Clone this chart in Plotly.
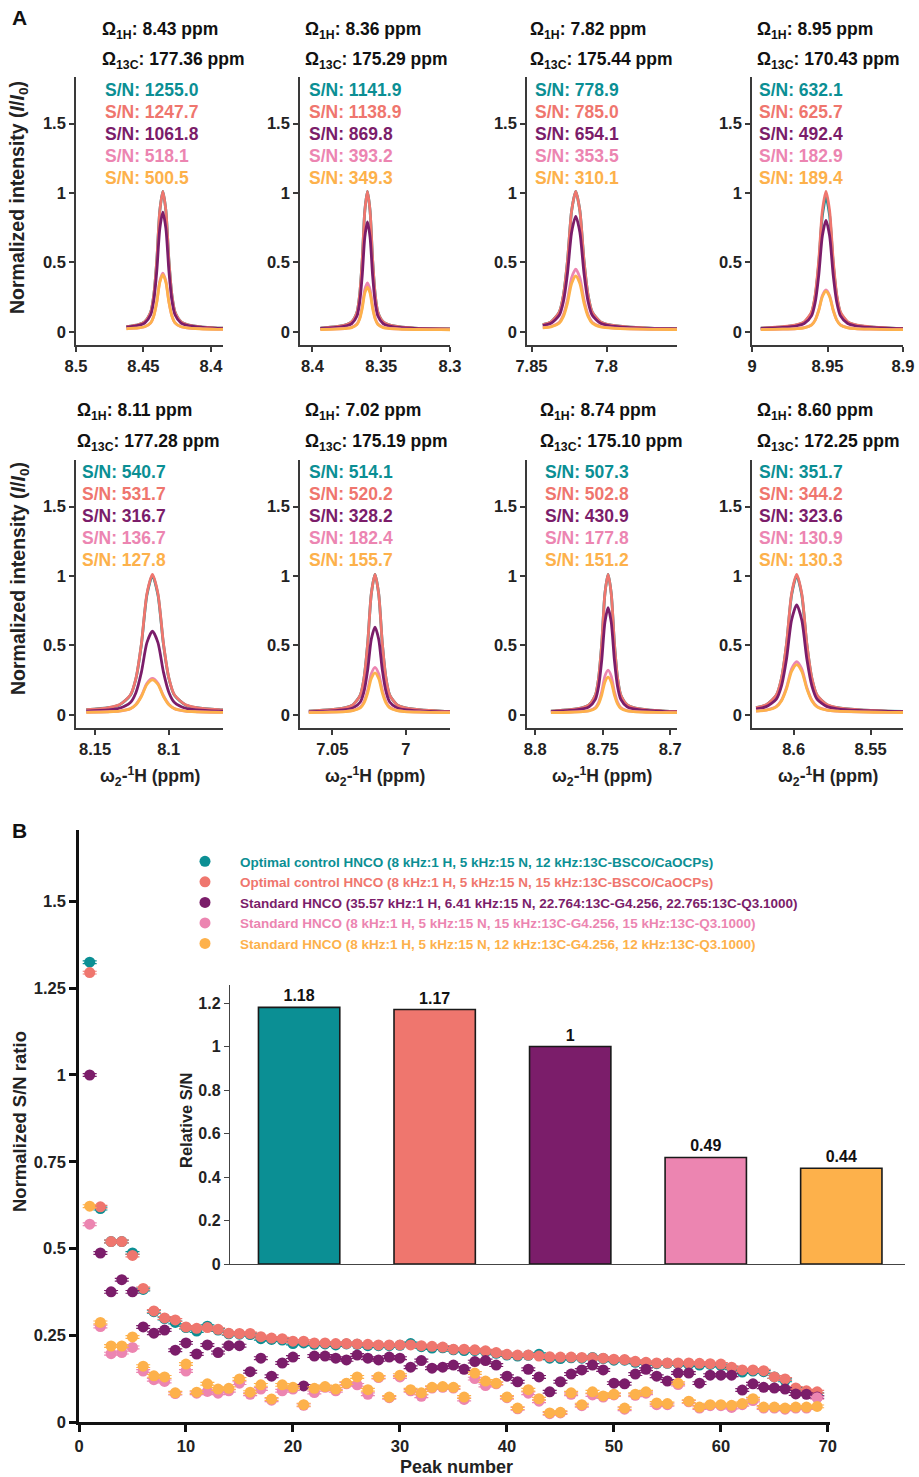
import plotly.graph_objects as go

W, H = 919, 1477
def PX(x): return x / W
def PY(y): return 1 - y / H

# ---------------- Panel A data ----------------
COLORS = ["#0B8F94", "#EF766E", "#7B1D6A", "#EC85B1", "#FDB14B"]
OMEGA_1H = ["8.43", "8.36", "7.82", "8.95", "8.11", "7.02", "8.74", "8.60"]
OMEGA_13C = ["177.36", "175.29", "175.44", "170.43", "177.28", "175.19", "175.10", "172.25"]
SN = [
    ["1255.0", "1247.7", "1061.8", "518.1", "500.5"],
    ["1141.9", "1138.9", "869.8", "393.2", "349.3"],
    ["778.9", "785.0", "654.1", "353.5", "310.1"],
    ["632.1", "625.7", "492.4", "182.9", "189.4"],
    ["540.7", "531.7", "316.7", "136.7", "127.8"],
    ["514.1", "520.2", "328.2", "182.4", "155.7"],
    ["507.3", "502.8", "430.9", "177.8", "151.2"],
    ["351.7", "344.2", "323.6", "130.9", "130.3"],
]
# peak heights (teal, salmon, purple, pink, orange)
PEAK_HEIGHT = [
    [1.00, 1.00, 0.85, 0.41, 0.40],
    [1.00, 1.00, 0.78, 0.34, 0.31],
    [1.00, 1.00, 0.82, 0.44, 0.39],
    [0.96, 1.00, 0.79, 0.29, 0.28],
    [0.99, 1.00, 0.59, 0.25, 0.24],
    [1.00, 1.00, 0.62, 0.33, 0.29],
    [1.00, 1.00, 0.76, 0.31, 0.26],
    [0.99, 1.00, 0.78, 0.37, 0.35],
]
PEAK_CENTER = [8.4356, 8.360, 7.8205, 8.951, 8.111, 7.021, 8.746, 8.598]
PEAK_HWHM = [0.0045, 0.0038, 0.0055, 0.0048, 0.0075, 0.0050, 0.0047, 0.0066]
CURVE_LEFT = [8.476, 8.400, 7.850, 9.000, 8.163, 7.072, 8.806, 8.627]
X_RANGE = [(8.5, 8.391), (8.409, 8.30), (7.853, 7.753), (9.0, 8.9),
           (8.163, 8.063), (7.072, 6.97), (8.806, 8.695), (8.627, 8.529)]
X_TICKS = [[8.5, 8.45, 8.4], [8.4, 8.35, 8.3], [7.85, 7.8], [9, 8.95, 8.9],
           [8.15, 8.1], [7.05, 7], [8.8, 8.75, 8.7], [8.6, 8.55]]
# line-shape profile (offset in half-widths, relative intensity)
PROFILE_U = [-20, -14, -9, -6, -4, -3, -2, -1.5, -1, -0.5, 0, 0.5, 1, 1.5, 2, 3, 4, 6, 9, 14, 20]
PROFILE_V = [0.008, 0.010, 0.015, 0.025, 0.040, 0.060, 0.13, 0.25, 0.50, 0.86, 1.0,
             0.86, 0.50, 0.25, 0.13, 0.060, 0.040, 0.025, 0.015, 0.010, 0.008]
BASELINE = 0.012

# ---------------- Panel B data ----------------
SERIES_NAMES = [
    "Optimal control HNCO (8 kHz:1 H, 5 kHz:15 N, 12 kHz:13C-BSCO/CaOCPs)",
    "Optimal control HNCO (8 kHz:1 H, 5 kHz:15 N, 15 kHz:13C-BSCO/CaOCPs)",
    "Standard HNCO (35.57 kHz:1 H, 6.41 kHz:15 N, 22.764:13C-G4.256, 22.765:13C-Q3.1000)",
    "Standard HNCO (8 kHz:1 H, 5 kHz:15 N, 15 kHz:13C-G4.256, 15 kHz:13C-Q3.1000)",
    "Standard HNCO (8 kHz:1 H, 5 kHz:15 N, 12 kHz:13C-G4.256, 12 kHz:13C-Q3.1000)",
]
PEAKS = list(range(1, 70))
SN_OC12 = [1.325, 0.615, 0.52, 0.52, 0.487, 0.382, 0.318, 0.298, 0.287, 0.272,
           0.262, 0.276, 0.265, 0.254, 0.253, 0.252, 0.24, 0.238, 0.236, 0.226,
           0.228, 0.224, 0.225, 0.222, 0.225, 0.224, 0.22, 0.22, 0.22, 0.221,
           0.226, 0.217, 0.213, 0.214, 0.208, 0.206, 0.206, 0.203, 0.198, 0.193,
           0.19, 0.192, 0.195, 0.184, 0.183, 0.185, 0.184, 0.186, 0.183, 0.178,
           0.178, 0.172, 0.17, 0.168, 0.169, 0.168, 0.166, 0.164, 0.166, 0.163,
           0.155, 0.144, 0.147, 0.145, 0.13, 0.12, 0.095, 0.087, 0.08]
SN_OC15 = [1.295, 0.62, 0.52, 0.52, 0.48, 0.385, 0.32, 0.30, 0.294, 0.274,
           0.27, 0.272, 0.267, 0.256, 0.255, 0.255, 0.246, 0.242, 0.24, 0.233,
           0.233, 0.228, 0.228, 0.226, 0.226, 0.225, 0.224, 0.222, 0.222, 0.222,
           0.222, 0.22, 0.218, 0.216, 0.21, 0.21, 0.208, 0.205, 0.2, 0.195,
           0.193, 0.193, 0.19, 0.188, 0.187, 0.187, 0.186, 0.185, 0.184, 0.181,
           0.18, 0.175, 0.172, 0.17, 0.17, 0.17, 0.17, 0.169, 0.168, 0.167,
           0.158, 0.15, 0.15, 0.148, 0.13, 0.124, 0.098, 0.09, 0.087]
SN_STD_HI = [1.0, 0.487, 0.375, 0.41, 0.375, 0.274, 0.256, 0.265, 0.207, 0.228,
             0.196, 0.222, 0.20, 0.22, 0.22, 0.145, 0.184, 0.132, 0.17, 0.187,
             0.104, 0.19, 0.19, 0.184, 0.179, 0.193, 0.184, 0.179, 0.187, 0.184,
             0.158, 0.177, 0.155, 0.158, 0.164, 0.152, 0.174, 0.177, 0.164, 0.132,
             0.116, 0.152, 0.13, 0.087, 0.116, 0.138, 0.15, 0.164, 0.15, 0.112,
             0.11, 0.138, 0.152, 0.132, 0.118, 0.141, 0.141, 0.112, 0.135, 0.135,
             0.135, 0.092, 0.11, 0.10, 0.098, 0.095, 0.081, 0.08, 0.072]
SN_STD15 = [0.57, 0.275, 0.197, 0.2, 0.215, 0.147, 0.122, 0.117, 0.082, 0.147,
            0.083, 0.088, 0.083, 0.09, 0.112, 0.08, 0.095, 0.063, 0.09, 0.095,
            0.048, 0.085, 0.1, 0.09, 0.11, 0.107, 0.08, 0.128, 0.07, 0.13,
            0.09, 0.074, 0.098, 0.1, 0.098, 0.065, 0.125, 0.105, 0.11, 0.07,
            0.038, 0.083, 0.06, 0.024, 0.026, 0.08, 0.047, 0.078, 0.072, 0.078,
            0.037, 0.077, 0.083, 0.05, 0.05, 0.108, 0.058, 0.04, 0.047, 0.047,
            0.042, 0.05, 0.062, 0.04, 0.04, 0.037, 0.04, 0.04, 0.07]
SN_STD12 = [0.622, 0.287, 0.219, 0.219, 0.245, 0.161, 0.133, 0.13, 0.084, 0.167,
            0.086, 0.11, 0.095, 0.097, 0.124, 0.086, 0.107, 0.066, 0.107, 0.10,
            0.05, 0.097, 0.102, 0.095, 0.112, 0.13, 0.093, 0.13, 0.072, 0.135,
            0.093, 0.084, 0.10, 0.102, 0.10, 0.072, 0.141, 0.118, 0.112, 0.072,
            0.04, 0.093, 0.067, 0.026, 0.028, 0.084, 0.05, 0.087, 0.075, 0.08,
            0.04, 0.08, 0.087, 0.055, 0.053, 0.112, 0.06, 0.043, 0.05, 0.05,
            0.048, 0.053, 0.067, 0.043, 0.043, 0.04, 0.043, 0.043, 0.045]
SN_ERR = 0.004
REL_SN = [1.18, 1.17, 1.0, 0.49, 0.44]
REL_LABELS = ["1.18", "1.17", "1", "0.49", "0.44"]

FONT = "Liberation Sans, Arial, Helvetica, sans-serif"
NARROW = "Liberation Sans Narrow, Arial Narrow, Liberation Sans, Arial, sans-serif"

fig = go.Figure()
layout = dict(template="none", width=W, height=H, margin=dict(l=0, r=0, t=0, b=0, pad=0),
              plot_bgcolor="white", paper_bgcolor="white",
              font=dict(family=FONT, color="#222222"))
ann = []

COLX = [(76, 223), (300, 450), (527, 677), (752, 903)]
ROWY = [(77, 345), (460, 728)]
TITLE_X = [[100, 303, 528, 755], [75, 303, 538, 755]]
SNL_X = [[103, 307, 533, 757], [80, 307, 543, 757]]
TITLE_Y = [(30, 60), (412, 442)]
SN_Y0 = [90, 472]

AX_A = dict(showline=True, linecolor="#3a3a3a", linewidth=1.7, ticks="outside",
            ticklen=5, tickwidth=1.7, tickcolor="#3a3a3a", showgrid=False, zeroline=False,
            automargin=False, tickfont=dict(size=16.5, family=FONT, weight="bold", color="#222"))

for i in range(8):
    r, c = divmod(i, 4)
    k = i + 1
    xa = "x" if k == 1 else f"x{k}"
    ya = "y" if k == 1 else f"y{k}"
    x0, x1 = COLX[c]
    yt, yb = ROWY[r]
    layout["xaxis" if k == 1 else f"xaxis{k}"] = dict(
        domain=[PX(x0), PX(x1)], anchor=ya, range=list(X_RANGE[i]),
        tickvals=X_TICKS[i], ticktext=[f"{v:g}" for v in X_TICKS[i]], **AX_A)
    layout["yaxis" if k == 1 else f"yaxis{k}"] = dict(
        domain=[PY(yb), PY(yt)], anchor=xa, range=[-0.095, 1.835],
        tickvals=[0, 0.5, 1, 1.5], ticktext=["0", "0.5", "1", "1.5"], **AX_A)
    for s in range(5):
        xs, ys = [], []
        for u, v in zip(PROFILE_U, PROFILE_V):
            xv = PEAK_CENTER[i] + u * PEAK_HWHM[i]
            if xv <= CURVE_LEFT[i] + 1e-9:
                xs.append(xv)
                ys.append(BASELINE + PEAK_HEIGHT[i][s] * v)
        fig.add_trace(go.Scatter(x=xs, y=ys, xaxis=xa, yaxis=ya, mode="lines",
                                 line=dict(color=COLORS[s], width=2.8, shape="spline", smoothing=0.7),
                                 showlegend=False, hoverinfo="skip"))
    ty1, ty2 = TITLE_Y[r]
    ann.append(dict(x=PX(TITLE_X[r][c]), y=PY(ty1), xref="paper", yref="paper",
                    xanchor="left", yanchor="middle", showarrow=False,
                    text=f"Ω<sub>1H</sub>: {OMEGA_1H[i]} ppm",
                    font=dict(size=17.5, family=FONT, weight="bold", color="#111")))
    ann.append(dict(x=PX(TITLE_X[r][c]), y=PY(ty2), xref="paper", yref="paper",
                    xanchor="left", yanchor="middle", showarrow=False,
                    text=f"Ω<sub>13C</sub>: {OMEGA_13C[i]} ppm",
                    font=dict(size=17.5, family=FONT, weight="bold", color="#111")))
    for s in range(5):
        ann.append(dict(x=PX(SNL_X[r][c]), y=PY(SN_Y0[r] + 22 * s), xref="paper", yref="paper",
                        xanchor="left", yanchor="middle", showarrow=False,
                        text=f"S/N: {SN[i][s]}",
                        font=dict(size=17.5, family=FONT, weight="bold", color=COLORS[s])))

# A axis titles
for yc in (198, 579):
    ann.append(dict(x=PX(19), y=PY(yc), xref="paper", yref="paper", textangle=-90,
                    showarrow=False, xanchor="center", yanchor="middle",
                    text="Normalized intensity (<i>I</i>/<i>I</i><sub>0</sub>)",
                    font=dict(size=19.5, family=FONT, weight="bold", color="#222")))
for c in range(4):
    x0, x1 = COLX[c]
    ann.append(dict(x=PX((x0 + x1) / 2), y=PY(776), xref="paper", yref="paper",
                    showarrow=False, xanchor="center", yanchor="middle",
                    text="ω<sub>2</sub>-<sup>1</sup>H (ppm)",
                    font=dict(size=17.5, family=FONT, weight="bold", color="#222")))
ann.append(dict(x=PX(10), y=PY(18), xref="paper", yref="paper", showarrow=False,
                xanchor="left", yanchor="middle", text="A",
                font=dict(size=21, family=FONT, weight="bold", color="#111")))
ann.append(dict(x=PX(10), y=PY(830), xref="paper", yref="paper", showarrow=False,
                xanchor="left", yanchor="middle", text="B",
                font=dict(size=21, family=FONT, weight="bold", color="#111")))

# ---------------- Panel B main ----------------
layout["xaxis9"] = dict(domain=[PX(79), PX(830)], anchor="y9", range=[0, 70.2],
                        tickvals=list(range(0, 71, 10)), showline=True, linecolor="#111",
                        linewidth=2.6, ticks="outside", ticklen=7, tickwidth=2.6, tickcolor="#111",
                        showgrid=False, zeroline=False, automargin=False,
                        tickfont=dict(size=16.5, family=FONT, weight="bold", color="#222"))
layout["yaxis9"] = dict(domain=[PY(1422), PY(830)], anchor="x9", range=[0, 1.706],
                        tickvals=[0, 0.25, 0.5, 0.75, 1, 1.25, 1.5],
                        ticktext=["0", "0.25", "0.5", "0.75", "1", "1.25", "1.5"],
                        showline=True, linecolor="#111", linewidth=2.6, ticks="outside",
                        ticklen=7, tickwidth=2.6, tickcolor="#111", showgrid=False, zeroline=False,
                        automargin=False,
                        tickfont=dict(size=16.5, family=FONT, weight="bold", color="#222"))
ann.append(dict(x=PX(19), y=PY(1122), xref="paper", yref="paper", textangle=-90,
                showarrow=False, xanchor="center", yanchor="middle",
                text="Normalized S/N ratio",
                font=dict(size=18.5, family=FONT, weight="bold", color="#222")))
ann.append(dict(x=PX(456), y=PY(1467), xref="paper", yref="paper",
                showarrow=False, xanchor="center", yanchor="middle",
                text="Peak number",
                font=dict(size=18, family=FONT, weight="bold", color="#222")))

for s, vals in enumerate([SN_OC12, SN_OC15, SN_STD_HI, SN_STD15, SN_STD12]):
    fig.add_trace(go.Scatter(
        x=PEAKS, y=vals, xaxis="x9", yaxis="y9", mode="markers",
        marker=dict(color=COLORS[s], size=11, line=dict(width=0)),
        error_y=dict(type="constant", value=SN_ERR, width=7, thickness=1.2, color=COLORS[s]),
        name=f"<span style='color:{COLORS[s]}'>{SERIES_NAMES[s]}</span>",
        cliponaxis=False, showlegend=True))

# ---------------- Inset bar chart ----------------
layout["xaxis10"] = dict(domain=[PX(230), PX(905)], anchor="y10", range=[-0.51, 4.47],
                         showline=True, linecolor="#444", linewidth=1.4, ticks="",
                         showticklabels=False, showgrid=False, zeroline=False, automargin=False)
layout["yaxis10"] = dict(domain=[PY(1264), PY(985)], anchor="x10", range=[0, 1.283],
                         tickvals=[0, 0.2, 0.4, 0.6, 0.8, 1, 1.2],
                         ticktext=["0", "0.2", "0.4", "0.6", "0.8", "1", "1.2"],
                         showline=True, linecolor="#444", linewidth=1.4, ticks="outside",
                         ticklen=5, tickwidth=1.4, tickcolor="#444", showgrid=False, zeroline=False,
                         automargin=False,
                         tickfont=dict(size=16, family=NARROW, weight="bold", color="#222"))
ann.append(dict(x=PX(186), y=PY(1121), xref="paper", yref="paper", textangle=-90,
                showarrow=False, xanchor="center", yanchor="middle",
                text="Relative S/N",
                font=dict(size=16.5, family=FONT, weight="bold", color="#222")))
fig.add_trace(go.Bar(x=list(range(5)), y=REL_SN, xaxis="x10", yaxis="y10", width=0.6,
                     marker=dict(color=COLORS, line=dict(color="#1a1a1a", width=1.6)),
                     text=REL_LABELS, textposition="outside", cliponaxis=False,
                     textfont=dict(size=16, family=NARROW, weight="bold", color="#111"),
                     showlegend=False, hoverinfo="skip"))

layout["legend"] = dict(x=PX(170), y=PY(846), xanchor="left", yanchor="top",
                        bgcolor="rgba(0,0,0,0)", borderwidth=0, tracegroupgap=0,
                        itemwidth=60,
                        font=dict(size=13.5, family=FONT, weight="bold"))
layout["annotations"] = ann
layout["showlegend"] = True
fig.update_layout(**layout)
fig.write_html("out.html")
